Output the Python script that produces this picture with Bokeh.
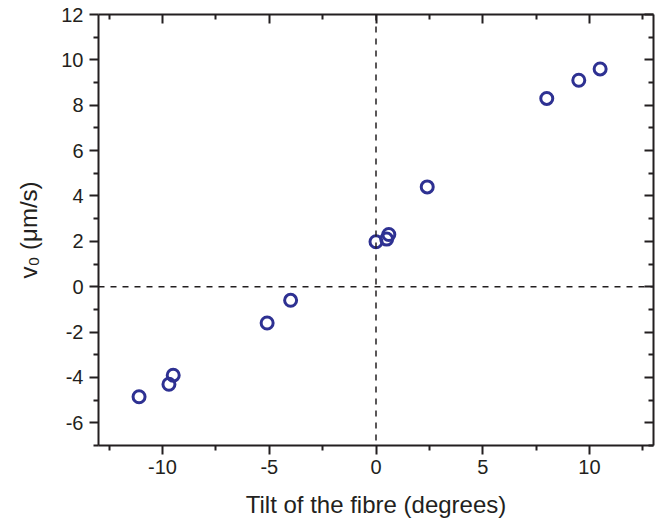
from bokeh.plotting import figure
from bokeh.models import LinearAxis, FixedTicker, Span, Range1d, ColumnDataSource
from bokeh.embed import file_html
from bokeh.resources import INLINE

# Data
tilt_deg = [-11.1, -9.7, -9.5, -5.1, -4.0, 0.0, 0.5, 0.6, 2.4, 8.0, 9.5, 10.5]
v0_um_s = [-4.85, -4.3, -3.9, -1.6, -0.6, 1.98, 2.1, 2.3, 4.4, 8.3, 9.1, 9.6]

x_major = [-10, -5, 0, 5, 10]
x_minor = [-12.5, -7.5, -2.5, 2.5, 7.5, 12.5]
y_major = [-6, -4, -2, 0, 2, 4, 6, 8, 10, 12]
y_minor = [-7, -5, -3, -1, 1, 3, 5, 7, 9, 11]

FONT = "Liberation Sans"
INK = "#231F20"
BLUE = "#2E3192"

p = figure(frame_width=555, frame_height=431,
           min_border_left=98, min_border_top=14, min_border_right=4,
           min_border_bottom=78,
           x_range=Range1d(-13, 13), y_range=Range1d(-7, 12),
           output_backend="svg", toolbar_location=None,
           x_axis_label="Tilt of the fibre (degrees)",
           y_axis_label="v\u2080 (\u03bcm/s)")
p.outline_line_color = None
p.xgrid.visible = False
p.ygrid.visible = False
p.background_fill_color = "white"
p.border_fill_color = "white"

xt = FixedTicker(ticks=x_major, minor_ticks=x_minor)
yt = FixedTicker(ticks=y_major, minor_ticks=y_minor)


def style(ax, inward):
    ax.axis_line_color = INK
    ax.axis_line_width = 2
    ax.major_tick_line_color = INK
    ax.major_tick_line_width = 2
    ax.minor_tick_line_color = INK
    ax.minor_tick_line_width = 2
    if inward:
        ax.major_tick_in = 9
        ax.major_tick_out = 0
        ax.minor_tick_in = 5
        ax.minor_tick_out = 0
    else:
        ax.major_tick_in = 0
        ax.major_tick_out = 9
        ax.minor_tick_in = 0
        ax.minor_tick_out = 5
    ax.major_label_text_font = FONT
    ax.major_label_text_font_size = "20px"
    ax.major_label_text_color = INK
    ax.major_label_standoff = 5
    ax.axis_label_text_font = FONT
    ax.axis_label_text_font_size = "24px"
    ax.axis_label_text_font_style = "normal"
    ax.axis_label_text_color = INK


bx = p.xaxis[0]
bx.ticker = xt
style(bx, inward=False)
bx.major_label_overrides = {t: str(t) for t in x_major}
bx.axis_label_standoff = 14
ly = p.yaxis[0]
ly.ticker = yt
style(ly, inward=False)
ly.major_label_overrides = {t: str(t) for t in y_major}
ly.major_label_standoff = 6
ly.axis_label_standoff = 16

tx = LinearAxis(ticker=xt, major_label_overrides={t: "" for t in x_major})
style(tx, inward=True)
tx.major_label_standoff = 0
p.add_layout(tx, "above")
ry = LinearAxis(ticker=yt, major_label_overrides={t: "" for t in y_major})
style(ry, inward=True)
ry.major_label_standoff = 0
p.add_layout(ry, "right")

p.add_layout(Span(location=0, dimension="width", line_color=INK,
                  line_width=1.5, line_dash="6 6"))
p.add_layout(Span(location=0, dimension="height", line_color=INK,
                  line_width=1.5, line_dash="6 6"))

src = ColumnDataSource(data=dict(x=tilt_deg, y=v0_um_s))
p.scatter("x", "y", source=src, marker="circle", size=12,
          fill_color=None, line_color=BLUE, line_width=3)

open("out.html", "w").write(file_html(p, INLINE))
